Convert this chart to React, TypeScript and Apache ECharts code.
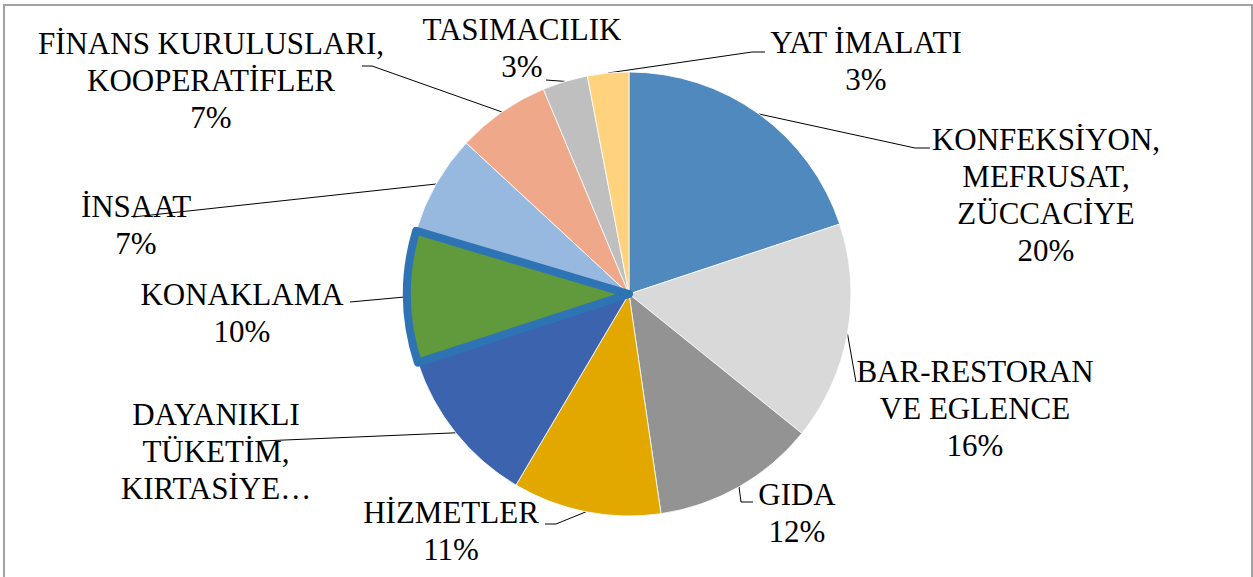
import React, { useEffect, useRef } from "react";
import * as echarts from "echarts";

const categories = [
  "KONFEKSİYON,\nMEFRUSAT,\nZÜCCACİYE",
  "BAR-RESTORAN\nVE EGLENCE",
  "GIDA",
  "HİZMETLER",
  "DAYANIKLI TÜKETİM, KIRTASİYE…",
  "KONAKLAMA",
  "İNSAAT",
  "FİNANS KURULUSLARI,\nKOOPERATİFLER",
  "TASIMACILIK",
  "YAT İMALATI",
];
const values = [19.9, 15.9, 11.9, 10.8, 11.5, 9.6, 7.3, 6.8, 3.3, 3.0];
const colors = [
  "#4F89BD", "#D9D9D9", "#939393", "#E3A800", "#3C64AE",
  "#619A3D", "#97B8DF", "#F0A88A", "#BFBFBF", "#FFD27E",
];
const highlightedIndex = 5;
const truncatedLabel = "DAYANIKLI\nTÜKETİM,\nKIRTASİYE…";

// label placement (center x, top y) and leader-line end points
const labelPos: { x: number; y: number; elbow: number[]; end: number[] }[] = [
  { x: 1046, y: 121, elbow: [915, 148], end: [930, 148] },
  { x: 975, y: 353, elbow: [856, 382], end: [856, 382] },
  { x: 797, y: 476, elbow: [741, 502], end: [753, 502] },
  { x: 451, y: 494, elbow: [556, 524], end: [545, 524] },
  { x: 216, y: 396, elbow: [261, 441], end: [261, 441] },
  { x: 242, y: 276, elbow: [350, 302], end: [350, 302] },
  { x: 136, y: 188, elbow: [133, 217], end: [133, 217] },
  { x: 211, y: 25, elbow: [372, 66], end: [362, 66] },
  { x: 522, y: 11, elbow: [546, 80], end: [546, 80] },
  { x: 866, y: 24, elbow: [752, 52], end: [765, 52] },
];

const CX = 629;
const CY = 294;
const R = 222;

export default function App() {
  const ref = useRef<HTMLDivElement>(null);
  useEffect(() => {
    if (!ref.current) return;
    const chart = echarts.init(ref.current, undefined, { renderer: "svg" });
    const total = values.reduce((a, b) => a + b, 0);
    const mids: number[] = [];
    let acc = 0;
    values.forEach((v) => {
      const a0 = (acc / total) * 2 * Math.PI;
      acc += v;
      const a1 = (acc / total) * 2 * Math.PI;
      mids.push((a0 + a1) / 2);
    });
    const mainData = values.map((v, i) => ({
      name: categories[i],
      value: v,
      itemStyle: { color: colors[i] },
      ...(i === 4 ? { label: { formatter: truncatedLabel } } : {}),
    }));
    const overlayData = values.map((v, i) => ({
      name: categories[i],
      value: v,
      itemStyle:
        i === highlightedIndex
          ? { color: colors[i], borderColor: "#2E74B5", borderWidth: 8, borderJoin: "round" }
          : { color: "rgba(0,0,0,0)", borderWidth: 0 },
    }));
    chart.setOption({
      animation: false,
      backgroundColor: "#ffffff",
      graphic: [
        {
          type: "rect",
          shape: { x: 4, y: 5, width: 1248, height: 620 },
          style: { fill: "none", stroke: "#A3A3A3", lineWidth: 2 },
          silent: true,
        },
      ],
      series: [
        {
          type: "pie",
          center: [CX, CY],
          radius: R,
          startAngle: 90,
          clockwise: true,
          avoidLabelOverlap: false,
          itemStyle: { borderColor: "#ffffff", borderWidth: 0.8 },
          label: {
            show: true,
            position: "outside",
            fontFamily: "Liberation Serif",
            fontSize: 31,
            lineHeight: 37,
            color: "#000000",
            formatter: (p: any) => `${p.name}\n${Math.round(p.percent)}%`,
          },
          labelLine: {
            show: true,
            length: 10,
            length2: 10,
            lineStyle: { color: "#000000", width: 1 },
          },
          labelLayout: (params: any) => {
            const i = params.dataIndex;
            const p = labelPos[i];
            const m = mids[i];
            const start = [CX + R * Math.sin(m), CY - R * Math.cos(m)];
            return {
              x: p.x,
              y: p.y,
              align: "center",
              verticalAlign: "top",
              labelLinePoints: [start, p.elbow, p.end],
            };
          },
          data: mainData,
        },
        {
          type: "pie",
          center: [CX, CY],
          radius: R,
          startAngle: 90,
          clockwise: true,
          silent: true,
          z: 3,
          label: { show: false },
          labelLine: { show: false },
          data: overlayData,
        },
      ],
    });
    return () => chart.dispose();
  }, []);
  return (
    <div
      ref={ref}
      style={{ position: "fixed", left: 0, top: 0, width: 1253, height: 577 }}
    />
  );
}
